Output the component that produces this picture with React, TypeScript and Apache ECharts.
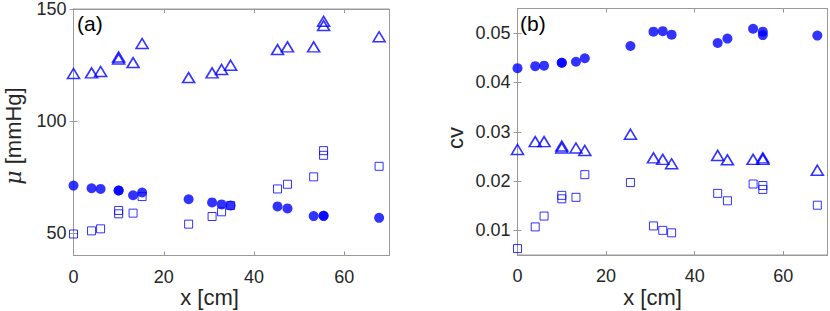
import React, { useEffect, useRef } from "react";
import * as echarts from "echarts";

const xPos = [0, 4, 6, 10, 10, 13.2, 15.2, 25.5, 30.7, 32.8, 34.8, 45.2, 47.4, 53.2, 55.4, 55.4, 67.7];

const muTriangle = [121.2, 121.5, 122.1, 128.6, 127.7, 126.1, 134.6, 119.4, 121.5, 123.0, 124.9, 131.9, 133.1, 133.1, 144.5, 142.6, 137.6];
const muCircle = [71.2, 70.0, 69.7, 69.0, 69.0, 66.9, 68.1, 65.1, 63.7, 62.8, 62.3, 61.9, 61.0, 57.6, 57.7, 57.7, 56.8];
const muSquare = [49.6, 51.0, 51.9, 60.1, 58.6, 58.9, 66.3, 54.0, 57.4, 59.5, 62.3, 69.7, 71.8, 75.1, 86.8, 84.7, 79.8];

const cvCircle = [0.0429, 0.0433, 0.0434, 0.044, 0.044, 0.0442, 0.0449, 0.0474, 0.0503, 0.0504, 0.0497, 0.048, 0.0489, 0.0509, 0.0503, 0.0496, 0.0495];
const cvTriangle = [0.0264, 0.028, 0.028, 0.0271, 0.0267, 0.0267, 0.0262, 0.0295, 0.0247, 0.0244, 0.0235, 0.0252, 0.0243, 0.0244, 0.0247, 0.0244, 0.0222];
const cvSquare = [0.0063, 0.0107, 0.0129, 0.0171, 0.0164, 0.0167, 0.0213, 0.0197, 0.0109, 0.01, 0.0095, 0.0175, 0.016, 0.0194, 0.0191, 0.0183, 0.0151];

const xTicks = [0, 20, 40, 60];
const muTicks = [50, 100, 150];
const cvTicks = [0.01, 0.02, 0.03, 0.04, 0.05];

const FONT = "'Liberation Sans', Arial, Helvetica, sans-serif";
const BLUE = "#0000ff";
const AXIS = "#999999";
const TXT = "#262626";

const pairs = (ys: number[]) => xPos.map((x, i) => [x, ys[i]]);

export default function App() {
  const ref = useRef<HTMLDivElement>(null);
  useEffect(() => {
    document.body.style.margin = "0";
    if (!ref.current) return;
    const chart = echarts.init(ref.current, undefined, { renderer: "svg" });

    const xAxisBase = (grid: number, pos: "bottom" | "top") => ({
      type: "value" as const,
      gridIndex: grid,
      position: pos,
      min: 0,
      max: 70,
      interval: 20,
      axisLine: { show: true, lineStyle: { color: AXIS, width: 1 } },
      axisTick: { show: true, inside: true, length: 4, lineStyle: { color: AXIS } },
      axisLabel: {
        show: pos === "bottom",
        color: TXT,
        fontSize: 18,
        fontFamily: FONT,
        margin: 12,
        customValues: xTicks,
      },
      splitLine: { show: false },
    });

    const yAxisBase = (
      grid: number,
      pos: "left" | "right",
      min: number,
      max: number,
      ticks: number[],
      fmt: (v: number) => string
    ) => ({
      type: "value" as const,
      gridIndex: grid,
      position: pos,
      min,
      max,
      axisLine: { show: true, lineStyle: { color: AXIS, width: 1 } },
      axisTick: { show: true, inside: true, length: 4, lineStyle: { color: AXIS }, customValues: ticks },
      axisLabel: {
        show: pos === "left",
        color: TXT,
        fontSize: 18,
        fontFamily: FONT,
        margin: 7,
        customValues: ticks,
        formatter: fmt,
      },
      splitLine: { show: false },
    });

    const tri = (xi: number, yi: number, data: number[]) => ({
      type: "scatter" as const,
      xAxisIndex: xi,
      yAxisIndex: yi,
      data: pairs(data),
      symbol: "triangle",
      symbolSize: [12, 10],
      itemStyle: { color: "rgba(0,0,0,0)", borderColor: BLUE, borderWidth: 1.6 },
      z: 2,
    });
    const sq = (xi: number, yi: number, data: number[]) => ({
      type: "scatter" as const,
      xAxisIndex: xi,
      yAxisIndex: yi,
      data: pairs(data),
      symbol: "rect",
      symbolSize: 8,
      itemStyle: { color: "rgba(0,0,0,0)", borderColor: BLUE, borderWidth: 1 },
      z: 2,
    });
    const circ = (xi: number, yi: number, data: number[]) => ({
      type: "scatter" as const,
      xAxisIndex: xi,
      yAxisIndex: yi,
      data: pairs(data),
      symbol: "circle",
      symbolSize: 10,
      itemStyle: { color: BLUE, borderWidth: 0 },
      z: 3,
    });

    chart.setOption({
      animation: false,
      backgroundColor: "#ffffff",
      grid: [
        { left: 73.5, top: 8.5, width: 316, height: 247, show: true, borderColor: AXIS, borderWidth: 1, backgroundColor: "transparent" },
        { left: 517.5, top: 8.5, width: 310, height: 246.5, show: true, borderColor: AXIS, borderWidth: 1, backgroundColor: "transparent" },
      ],
      xAxis: [
        xAxisBase(0, "bottom"),
        xAxisBase(0, "top"),
        xAxisBase(1, "bottom"),
        xAxisBase(1, "top"),
      ],
      yAxis: [
        yAxisBase(0, "left", 40, 150, muTicks, (v) => String(v)),
        yAxisBase(0, "right", 40, 150, muTicks, (v) => String(v)),
        yAxisBase(1, "left", 0.005, 0.055, cvTicks, (v) => v.toFixed(2)),
        yAxisBase(1, "right", 0.005, 0.055, cvTicks, (v) => v.toFixed(2)),
      ],
      series: [
        tri(0, 0, muTriangle),
        sq(0, 0, muSquare),
        circ(0, 0, muCircle),
        tri(2, 2, cvTriangle),
        sq(2, 2, cvSquare),
        circ(2, 2, cvCircle),
      ],
      graphic: [
        { type: "text", x: 77, y: 23, style: { text: "(a)", fontSize: 21, fontFamily: FONT, fill: "#000", align: "left", verticalAlign: "middle" } },
        { type: "text", x: 520, y: 23, style: { text: "(b)", fontSize: 21, fontFamily: FONT, fill: "#000", align: "left", verticalAlign: "middle" } },
        { type: "text", x: 209.5, y: 297, style: { text: "x [cm]", fontSize: 22, fontFamily: FONT, fill: TXT, align: "center", verticalAlign: "middle" } },
        { type: "text", x: 652.5, y: 297, style: { text: "x [cm]", fontSize: 22, fontFamily: FONT, fill: TXT, align: "center", verticalAlign: "middle" } },
        {
          type: "text",
          x: 13,
          y: 136,
          rotation: Math.PI / 2,
          style: {
            text: "{i|μ} [mmHg]",
            fontSize: 22,
            fontFamily: FONT,
            fill: TXT,
            align: "center",
            verticalAlign: "middle",
            rich: { i: { fontStyle: "italic", fontSize: 22, fontFamily: "'DejaVu Serif', serif", fill: TXT } },
          },
        },
        { type: "text", x: 455, y: 138, rotation: Math.PI / 2, style: { text: "cv", fontSize: 22, fontFamily: FONT, fill: TXT, align: "center", verticalAlign: "middle" } },
      ],
    });
    return () => chart.dispose();
  }, []);
  return <div ref={ref} style={{ width: 830, height: 311 }} />;
}
